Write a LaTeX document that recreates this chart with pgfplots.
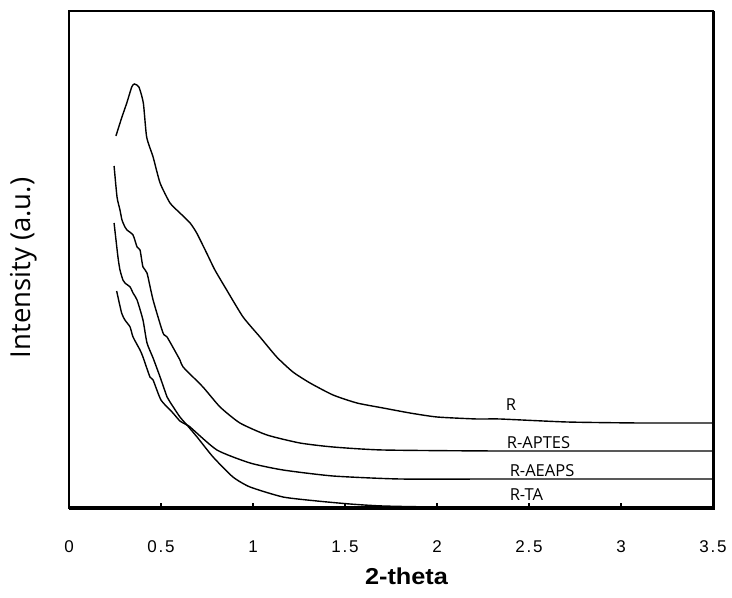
\documentclass[border=0pt]{standalone}
\usepackage{pgfplots}
\pgfplotsset{compat=1.18}
\usetikzlibrary{calc}
\usepackage{fontspec}
\usepackage{graphicx}
\setmainfont{Open Sans}
\newfontfamily\tickfont[LetterSpace=10]{Liberation Sans}
\newfontfamily\labfont{Liberation Sans}
\tikzset{curve/.style={black, line width=1.4bp, smooth, tension=0.35, mark=none}}
\begin{document}
\begin{tikzpicture}
\begin{axis}[
  name=ax,
  scale only axis,
  width=644bp, height=497bp,
  xmin=0, xmax=3.5, ymin=0, ymax=497,
  xtick={0,0.5,1,1.5,2,2.5,3,3.5},
  ytick=\empty,
  xtick pos=bottom,
  tick align=inside,
  major tick length=5bp,
  tick style={line width=1.2bp, black},
  axis line style={line width=1.3bp},
  /pgf/number format/assume math mode=true,
  xticklabel={\tickfont\fontsize{17bp}{20bp}\selectfont\pgfmathprintnumber{\tick}},
  xticklabel style={yshift=-29bp},
  clip=false,
]
\addplot[curve] coordinates {
(0.255,372)(0.286,390)(0.314,405)(0.341,421)(0.355,424)(0.380,421)(0.404,405)(0.422,371)(0.457,351)(0.495,325)(0.549,305)(0.603,295)(0.658,285)(0.694,275)(0.748,255)(0.793,238)(0.857,218)(0.946,191)(1.038,171)(1.129,151)(1.217,136)(1.310,125)(1.435,113)(1.565,105)(1.707,100)(1.853,95)(2.000,91)(2.217,89)(2.342,89)(2.707,86)(3.103,85)(3.5,85)
};
\addplot[curve] coordinates {
(0.245,342)(0.261,311)(0.277,298)(0.288,288)(0.304,281)(0.315,278)(0.348,273)(0.370,261)(0.386,258)(0.402,241)(0.424,235)(0.457,208)(0.511,175)(0.533,171)(0.603,148)(0.620,141)(0.728,121)(0.821,101)(0.929,85)(1.076,73)(1.255,65)(1.435,61)(1.707,58)(2.342,57)(3.5,57)
};
\addplot[curve] coordinates {
(0.245,285)(0.266,251)(0.277,238)(0.293,228)(0.304,225)(0.332,221)(0.348,215)(0.370,208)(0.402,188)(0.424,165)(0.457,150)(0.495,131)(0.533,111)(0.549,106)(0.603,91)(0.641,83)(0.696,71)(0.783,51)(0.891,31)(0.984,21)(1.163,11)(1.348,7)(1.527,4)(1.707,2)(2.071,1)(3.5,1)
};
\addplot[curve] coordinates {
(0.259,217)(0.286,195)(0.304,188)(0.332,181)(0.348,171)(0.386,158)(0.402,151)(0.440,131)(0.457,128)(0.500,108)(0.565,95)(0.603,87)(0.641,83)(0.658,81)(0.804,58)(0.984,45)(1.163,38)(1.435,32)(1.799,29)(2.342,29)(3.5,29)
};
\node[inner sep=0, font=\fontsize{16.5bp}{20bp}\selectfont] at (axis cs:2.402,103) {R};
\node[inner sep=0, font=\fontsize{16.5bp}{20bp}\selectfont] at (axis cs:2.552,65) {R-APTES};
\node[inner sep=0, font=\fontsize{16.5bp}{20bp}\selectfont] at (axis cs:2.571,37) {R-AEAPS};
\node[inner sep=0, font=\fontsize{16.5bp}{20bp}\selectfont] at (axis cs:2.486,13) {R-TA};
\draw[line width=3bp] (rel axis cs:0,0) -- (rel axis cs:1,0) -- (rel axis cs:1,1);
\end{axis}
\node[rotate=90, inner sep=0, font=\fontsize{27.5bp}{32bp}\selectfont] at ($(ax.south west)+(-45bp,240bp)$) {Intensity (a.u.)};
\node[inner sep=0, font=\labfont\bfseries\fontsize{23bp}{28bp}\selectfont] at ($(ax.south west)+(337.5bp,-68.5bp)$) {\scalebox{1.1}[1]{2-theta}};
\pgfresetboundingbox
\path[use as bounding box] ($(ax.south west)+(-69bp,-90bp)$) rectangle ($(ax.north east)+(19bp,11bp)$);
\end{tikzpicture}
\end{document}
